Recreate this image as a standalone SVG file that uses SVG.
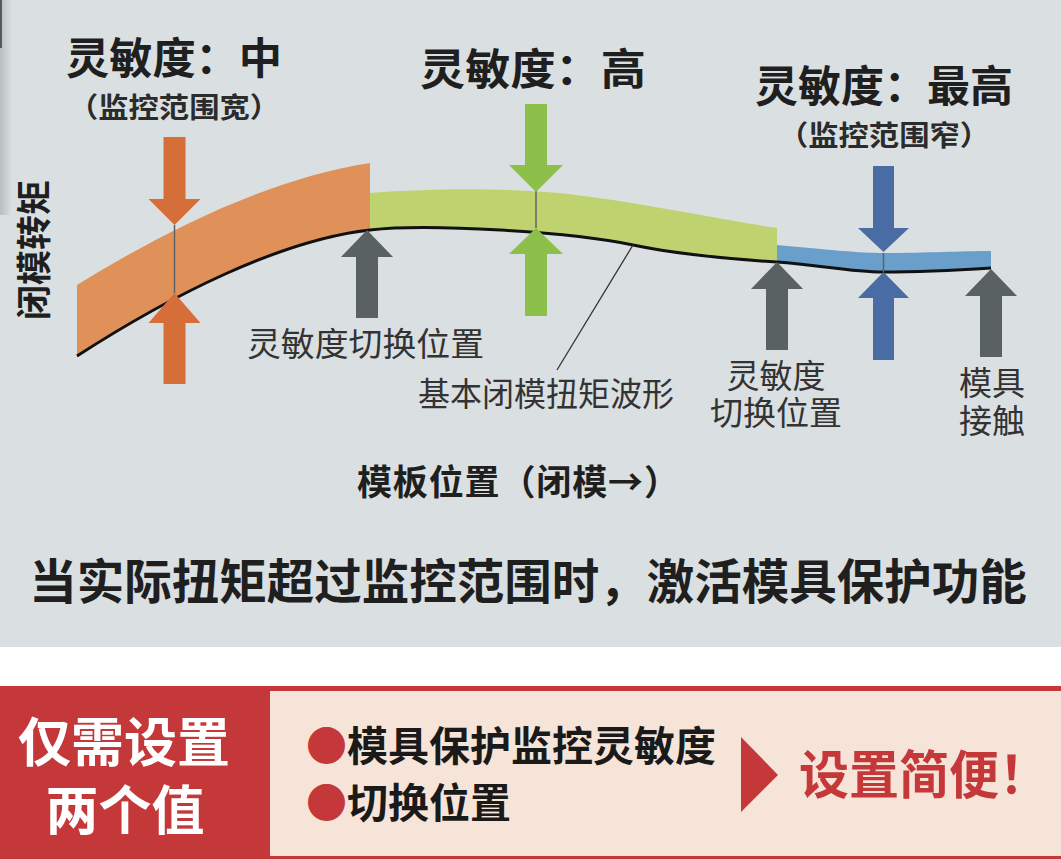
<svg xmlns="http://www.w3.org/2000/svg" width="1061" height="859" viewBox="0 0 1061 859">
<defs>
<linearGradient id="edge" x1="0" y1="0" x2="1" y2="0">
<stop offset="0" stop-color="#b9bec1"/>
<stop offset="1" stop-color="#dadfe2"/>
</linearGradient>
</defs>
<style>
.cjk{font-family:"Noto Sans CJK SC","Noto Sans",sans-serif;}
.title{font-size:43px;font-weight:700;fill:#1f1f1f;}
.sub{font-size:28px;font-weight:700;fill:#2b2b2b;}
.lbl{font-size:33px;font-weight:400;fill:#333;}
.axis{font-size:35px;font-weight:700;fill:#1f1f1f;}
.tick{stroke:#5e6466;stroke-width:1.5;fill:none;}
.org{fill:#d56e38;}
.grn{fill:#8dbf4b;}
.blu{fill:#4a6ca5;}
.gry{fill:#5a6163;}
</style>
<rect x="0" y="0" width="1061" height="647" fill="#dadfe2"/>
<rect x="0" y="0" width="12" height="215" fill="url(#edge)"/>
<rect x="0" y="0" width="2" height="48" fill="#555a5c"/>
<rect x="0" y="647" width="1061" height="39" fill="#ffffff"/>

<g id="bands">
<path d="M77,285 C150,240 260,180 370,163 L370,230 C280,240 170,296 77,356 Z" fill="#e0915a"/>
<path d="M370,193 C440,188 500,188 560,193 C640,202 710,218 777,228 L777,262 C730,259 680,255 633,245 C570,232 430,223.3 370,230 Z" fill="#bed36f"/>
<path d="M777,245 C830,250 860,253 883,253 C930,253 960,251 991,251 L991,268 C960,270 920,272 883,272 C850,272 820,265 777,262 Z" fill="#6a9ecb"/>
</g>

<g id="connectors">
<path d="M77,356 C170,296 280,240 370,230 C430,223.3 570,232 633,245 C680,255 730,259 777,262 C820,265 850,272 883,272 C920,272 960,270 991,268" fill="none" stroke="#111" stroke-width="3"/>
<line class="tick" x1="174.5" y1="225" x2="174.5" y2="293"/>
<line class="tick" x1="536" y1="191" x2="536" y2="228"/>
<line class="tick" x1="883.5" y1="253" x2="883.5" y2="272"/>
<line x1="633" y1="245" x2="557" y2="370" stroke="#333" stroke-width="1.3"/>
</g>

<g id="arrow-orange-down"><path class="org" d="M163.5,137 H185.5 V199 H200.5 L174.5,225 L148.5,199 H163.5 Z"/></g>
<g id="arrow-orange-up"><path class="org" d="M174.5,293 L200.5,323 H185.5 V384 H163.5 V323 H148.5 Z"/></g>
<g id="arrow-gray-1"><path class="gry" d="M367,230 L393,257 H378 V318 H356 V257 H341 Z"/></g>
<g id="arrow-green-down"><path class="grn" d="M525,104 H547 V165 H563 L536,192 L509,165 H525 Z"/></g>
<g id="arrow-green-up"><path class="grn" d="M536,228 L563,254 H547 V316 H525 V254 H509 Z"/></g>
<g id="arrow-gray-2"><path class="gry" d="M777,262 L803,289 H788 V350 H766 V289 H751 Z"/></g>
<g id="arrow-blue-down"><path class="blu" d="M873,166 H894 V228 H909 L883.5,252 L858,228 H873 Z"/></g>
<g id="arrow-blue-up"><path class="blu" d="M883.5,272 L909,298 H894 V360 H873 V298 H858 Z"/></g>
<g id="arrow-gray-3"><path class="gry" d="M991,269 L1017,296 H1002 V357 H980 V296 H965 Z"/></g>

<g id="label-mid">
<text class="cjk title" x="66" y="74" textLength="216" lengthAdjust="spacingAndGlyphs">灵敏度：中</text>
<text class="cjk sub" x="174" y="118" text-anchor="middle" textLength="212" lengthAdjust="spacingAndGlyphs">（监控范围宽）</text>
</g>
<g id="label-high">
<text class="cjk title" x="420" y="85" font-size="44" textLength="226" lengthAdjust="spacingAndGlyphs">灵敏度：高</text>
</g>
<g id="label-max">
<text class="cjk title" x="755" y="102">灵敏度：最高</text>
<text class="cjk sub" x="884" y="146" text-anchor="middle" textLength="212" lengthAdjust="spacingAndGlyphs">（监控范围窄）</text>
</g>
<g id="axis-y">
<text class="cjk axis" transform="translate(47,250) rotate(-90)" text-anchor="middle" font-size="36">闭模转矩</text>
</g>
<g id="label-switch-1">
<text class="cjk lbl" x="247" y="356" textLength="237" lengthAdjust="spacingAndGlyphs">灵敏度切换位置</text>
</g>
<g id="label-wave">
<text class="cjk lbl" x="418" y="406" font-size="31" textLength="256" lengthAdjust="spacingAndGlyphs">基本闭模扭矩波形</text>
</g>
<g id="label-switch-2">
<text class="cjk lbl" x="776" y="388" text-anchor="middle">灵敏度</text>
<text class="cjk lbl" x="776" y="425" text-anchor="middle">切换位置</text>
</g>
<g id="label-contact">
<text class="cjk lbl" x="992" y="395" text-anchor="middle" font-size="32">模具</text>
<text class="cjk lbl" x="992" y="433" text-anchor="middle" font-size="32">接触</text>
</g>
<g id="axis-x">
<text class="cjk axis" x="357" y="495" textLength="322" lengthAdjust="spacing">模板位置（闭模→）</text>
</g>
<g id="statement">
<text class="cjk" x="528" y="599" text-anchor="middle" font-size="47.5" font-weight="700" fill="#1f1f1f">当实际扭矩超过监控范围时，激活模具保护功能</text>
</g>

<g id="panel">
<rect x="0" y="686" width="1061" height="173" fill="#c4383a"/>
<rect x="270" y="691" width="791" height="165" fill="#f7e4d8"/>
</g>
<g id="panel-left">
<text class="cjk" x="124" y="762" text-anchor="middle" font-size="53" font-weight="700" fill="#ffffff">仅需设置</text>
<text class="cjk" x="125" y="830" text-anchor="middle" font-size="53" font-weight="700" fill="#ffffff">两个值</text>
</g>
<g id="panel-items">
<text class="cjk" x="306" y="761" font-size="41" font-weight="700" fill="#1a1a1a"><tspan fill="#c4383a">●</tspan>模具保护监控灵敏度</text>
<text class="cjk" x="306" y="818" font-size="41" font-weight="700" fill="#1a1a1a"><tspan fill="#c4383a">●</tspan>切换位置</text>
</g>
<g id="panel-arrow">
<path d="M741,737 L778,775 L741,812 Z" fill="#c4383a"/>
</g>
<g id="panel-result">
<text class="cjk" x="799" y="794" font-size="52" font-weight="700" fill="#c4383a" textLength="250" lengthAdjust="spacingAndGlyphs">设置简便！</text>
</g>
</svg>
